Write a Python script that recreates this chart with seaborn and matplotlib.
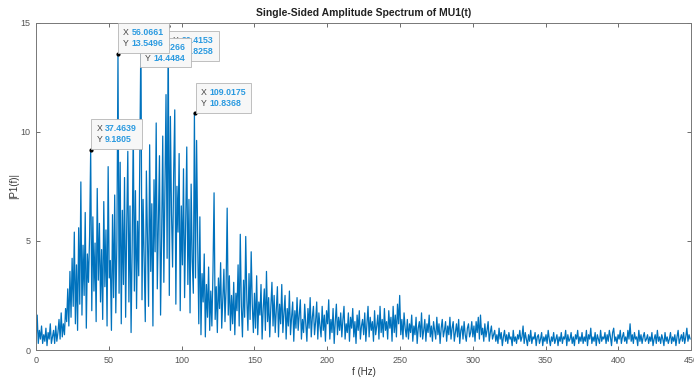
import numpy as np
import pandas as pd
import seaborn as sns
import matplotlib.pyplot as plt
from matplotlib.offsetbox import TextArea, HPacker, AnnotationBbox

# amplitude values, one value every 0.75 Hz
amp_low = [
    0.4, 1.6, 0.3, 0.9, 0.5, 1.1, 0.3, 0.7, 0.4, 1.0, 0.2, 0.8, 0.5, 1.2, 0.3, 0.6, 0.9, 0.3, 1.1, 0.4,
    0.8, 1.4, 0.5, 1.7, 0.6, 1.2, 0.7, 1.9, 1.3, 2.8, 1.1, 3.6, 1.5, 4.2, 2.0, 5.4, 1.2, 3.9, 0.9, 5.6,
]
amp_peak = [
    2.1, 7.7, 1.6, 4.8, 2.5, 6.3, 1.0, 4.4, 3.1, 5.2, 9.18, 1.8, 6.1, 2.7, 4.9, 1.3, 7.4, 3.2, 5.8, 2.2,
    4.6, 1.4, 6.8, 2.9, 5.5, 1.1, 8.4, 3.3, 4.1, 0.9, 6.2, 2.4, 7.1, 1.7, 5.0, 13.55, 2.6, 8.6, 1.2, 6.4,
    3.0, 7.9, 1.5, 5.7, 9.1, 2.2, 6.6, 0.8, 4.8, 10.2, 2.7, 7.3, 1.9, 5.9, 3.4, 8.8, 14.45, 2.3, 6.9, 4.0,
    1.3, 8.2, 5.1, 2.0, 9.4, 3.6, 6.7, 1.1, 7.8, 4.5, 10.4, 2.8, 6.0, 8.9, 1.6, 5.3, 9.8, 3.1, 7.2, 11.7,
    4.2, 14.83, 2.5, 10.7, 6.3, 3.8, 8.1, 11.0, 2.1, 7.5, 5.4, 9.0, 1.8, 6.6, 3.9, 8.3, 2.4, 5.8, 9.3, 3.0,
    6.9, 1.7, 7.6, 4.1, 2.6, 10.84, 3.3, 9.6, 5.0, 1.2, 6.1, 0.7, 3.5, 2.2, 4.4, 0.6, 3.0, 1.5, 3.8, 0.9,
]
amp_mid = [
    2.7, 1.1, 3.6, 7.2, 1.4, 2.9, 0.8, 3.3, 1.9, 4.0, 1.0, 2.4, 3.7, 1.3, 2.8, 6.5, 1.6, 3.4, 0.9, 2.5,
    1.2, 3.1, 0.7, 2.6, 1.8, 3.9, 1.1, 5.3, 2.0, 0.6, 3.2, 1.5, 5.2, 2.3, 0.9, 3.5, 1.4, 4.5, 2.1, 0.8,
    2.6, 1.0, 3.4, 0.7, 2.2, 1.6, 3.0, 0.5, 1.9, 2.8, 0.9, 3.6, 1.3, 2.4, 0.6, 2.0, 3.1, 1.1, 2.5, 0.8,
    1.8, 2.9, 0.6, 2.1, 1.2, 3.0, 0.8, 1.7, 2.5, 0.5, 1.9, 1.1, 2.7, 0.7, 1.5, 2.2, 0.4, 1.8, 1.0, 2.4,
    0.9, 1.6, 2.3, 0.5, 1.4, 0.8, 2.1, 1.2, 0.4, 1.9, 1.0, 2.4, 0.6, 1.5, 2.0, 0.7, 1.3, 2.2, 0.5, 1.7,
    1.1, 0.6, 2.0, 0.9, 1.6, 0.4, 1.8, 1.2, 2.3, 0.5, 1.4, 0.8, 1.9, 0.3, 1.3, 2.1, 0.7, 1.5, 0.9, 1.7,
]
amp_tail = [
    0.6, 1.4, 2.0, 0.5, 1.2, 0.8, 1.7, 0.4, 1.5, 1.0, 1.9, 0.6, 1.3, 0.3, 1.6, 0.9, 1.8, 0.5, 1.1, 1.4,
    0.7, 1.7, 0.4, 1.2, 2.0, 0.6, 1.5, 0.9, 1.3, 0.4, 1.8, 0.7, 1.1, 1.6, 0.5, 2.0, 0.8, 1.4, 0.6, 1.9,
    0.9, 1.3, 0.5, 1.8, 1.0, 1.5, 0.4, 2.0, 0.8, 1.6, 0.6, 2.1, 1.2, 2.5, 0.7, 1.4, 0.5, 1.7, 1.0, 0.6,
    1.4, 0.5, 1.2, 0.8, 1.6, 0.4, 1.1, 0.7, 1.5, 0.3, 1.0, 1.3, 0.6, 1.7, 0.5, 0.9, 1.4, 0.4, 1.2, 0.8,
    1.6, 0.6, 1.1, 0.4, 1.3, 0.9, 0.5, 1.5, 0.7, 1.2, 0.3, 1.0, 1.4, 0.6, 0.9, 1.3, 0.4, 1.1, 0.7, 1.5,
    0.5, 1.0, 1.3, 0.4, 0.8, 1.2, 0.6, 1.4, 0.3, 0.9, 1.1, 0.5, 1.3, 0.7, 0.4, 1.0, 1.2, 0.6, 0.8, 1.3,
    0.6, 1.1, 0.4, 1.3, 0.8, 1.5, 0.5, 1.6, 0.7, 1.0, 0.4, 1.2, 0.6, 0.9, 1.3, 0.4, 0.8, 1.1, 0.5, 0.7,
    0.9, 0.4, 0.7, 0.3, 1.0, 0.5, 0.8, 0.2, 0.6, 0.9, 0.4, 0.7, 0.3, 0.8, 0.5, 0.6, 0.2, 0.9, 0.4, 0.6,
    0.3, 0.7, 0.5, 0.9, 0.4, 0.6, 1.1, 0.3, 0.8, 0.5, 0.2, 0.7, 0.4, 0.9, 0.3, 0.6, 0.5, 0.8, 0.2, 0.6,
    0.7, 0.3, 0.5, 0.8, 0.2, 0.6, 0.4, 0.7, 0.3, 0.9, 0.5, 0.2, 0.6, 0.4, 0.8, 0.3, 0.5, 0.7, 0.2, 0.6,
    0.4, 0.8, 0.3, 0.6, 0.5, 0.9, 0.2, 0.7, 0.4, 0.5, 0.8, 0.3, 0.6, 0.2, 0.7, 0.5, 0.9, 0.3, 0.6, 0.4,
    0.8, 0.3, 0.6, 0.4, 0.9, 0.2, 0.7, 0.5, 1.0, 0.3, 0.6, 0.4, 0.8, 0.2, 0.7, 0.5, 0.3, 0.9, 0.4, 0.6,
    0.5, 0.8, 0.3, 0.7, 0.4, 0.9, 0.6, 0.2, 0.8, 1.0, 0.4, 0.6, 0.3, 0.7, 0.5, 0.9, 0.3, 0.6, 0.8, 0.4,
    0.6, 0.3, 0.9, 0.5, 1.2, 0.4, 0.7, 0.3, 0.8, 0.5, 0.6, 0.2, 0.9, 0.4, 0.7, 0.3, 0.6, 0.8, 0.4, 0.5,
    0.7, 0.3, 0.6, 0.4, 0.8, 0.2, 0.5, 0.7, 0.3, 0.9, 0.4, 0.6, 0.3, 0.7, 0.5, 0.2, 0.8, 0.4, 0.6, 0.3,
    0.5, 0.8, 0.3, 0.6, 0.4, 0.7, 0.2, 0.6, 0.9, 0.3, 0.5, 0.7, 0.4, 0.8, 0.3, 0.6, 1.0, 0.4, 0.7, 0.5,
]
freq_step = 0.75

# data tips shown on the chart (drawn back to front)
tip_x = [90.4153, 71.7266, 56.0661, 37.4639, 109.0175]
tip_y = [14.8258, 14.4484, 13.5496, 9.1805, 10.8368]
tip_off = [(4.0, -6.7), (3.3, -5.7), (4.0, 4.5), (4.1, 4.1), (4.1, 3.9)]
tip_align = [(0, 1), (0, 1), (0, 0), (0, 0), (0, 0)]

amp = amp_low + amp_peak + amp_mid + amp_tail
df = pd.DataFrame({"f": np.arange(len(amp)) * freq_step, "P1": amp})

sns.set_style("ticks")
plt.rcParams["font.family"] = ["Liberation Sans", "DejaVu Sans"]

fig = plt.figure(figsize=(6.94, 3.79), dpi=100)
ax = fig.add_axes([0.052, 0.0765, 0.944, 0.864])

matlab_blue = "#0072BD"
sns.lineplot(data=df, x="f", y="P1", ax=ax, color=matlab_blue, linewidth=0.9)

ax.set_xlim(0, 450)
ax.set_ylim(0, 15)
ax.set_xticks(range(0, 451, 50))
ax.set_yticks([0, 5, 10, 15])
ax.tick_params(direction="in", length=3, width=0.6, colors="#555555",
               labelsize=6.5, top=True, right=True, pad=4)
for s in ax.spines.values():
    s.set_color("#777777")
    s.set_linewidth(0.7)

ax.set_title("Single-Sided Amplitude Spectrum of MU1(t)", fontsize=7.5,
             fontweight="bold", color="#222222", pad=5)
ax.set_xlabel("f (Hz)", fontsize=7, color="#333333", labelpad=2)
ax.set_ylabel("|P1(f)|", fontsize=7, color="#333333", labelpad=1)

# data tips: black dot plus a small two-colour box
for x, y, off, al in zip(tip_x, tip_y, tip_off, tip_align):
    ax.plot(x, y, "o", color="black", markersize=2, zorder=5)
    keys = TextArea("X\nY", textprops=dict(fontsize=6.3, color="#444444", linespacing=1.3))
    vals = TextArea(f"{x:.4f}\n{y:.4f}", textprops=dict(fontsize=6.3, color="#2a9ae0",
                                                        fontweight="bold", linespacing=1.3))
    box = HPacker(children=[keys, vals], pad=0, sep=2, align="top")
    ab = AnnotationBbox(box, (x, y), xybox=off, xycoords="data", boxcoords="offset points",
                        box_alignment=al, frameon=True, pad=0.35,
                        bboxprops=dict(edgecolor="#b5b5b5", facecolor="#f7f7f7",
                                       boxstyle="square,pad=0.35", linewidth=0.6))
    ab.set_zorder(6)
    ax.add_artist(ab)

fig.savefig("out.png", dpi=100)
